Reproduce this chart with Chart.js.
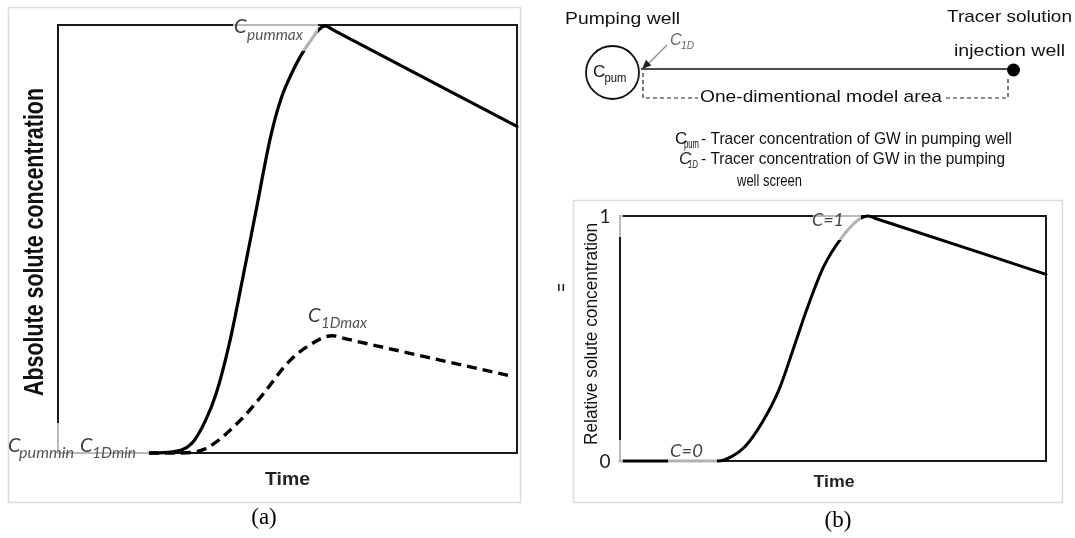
<!DOCTYPE html>
<html>
<head>
<meta charset="utf-8">
<script src="https://cdn.jsdelivr.net/npm/chart.js@4.4.1/dist/chart.umd.min.js"></script>
<style>
  html, body { margin: 0; padding: 0; background: #fff; }
  #wrap { position: relative; width: 1075px; height: 538px; }
  canvas { position: absolute; left: 0; top: 0; }
</style>
</head>
<body>
<div id="wrap">
  <canvas id="chartA" width="1075" height="538"></canvas>
  <canvas id="chartB" width="1075" height="538"></canvas>
</div>
<script>
// panel (a): absolute concentration, time in arbitrary units (0-100)
const timeA = [19.8, 24.6, 29.2, 32.1, 34.5, 37.4, 40, 43, 46.3, 48.5, 51.5, 54.5, 58.2, 60, 100];
const cPum = [0, 0.2, 2.3, 7.5, 14, 25.9, 39.5, 55.8, 73.8, 82.5, 90, 95.5, 99.8, 98.8, 76.3];
const time1D = [19.8, 26.1, 32.1, 39.6, 44.8, 50, 54.5, 59.7, 63, 99];
const c1D = [0, 0, 1, 7.5, 13.9, 21, 25, 27.4, 26.6, 17.9];

// panel (b): relative concentration
const timeB = [0, 23, 26.2, 29.3, 33.3, 37.3, 40.6, 43.8, 47.8, 51.9, 55.9, 58.2, 60, 100];
const cRel = [0, 0, 0.018, 0.058, 0.155, 0.29, 0.453, 0.616, 0.793, 0.909, 0.984, 1, 0.99, 0.762];
const relTicks = ["0", "1"];

const SANS = '"Liberation Sans", Arial, sans-serif';
const LAB = 'Lato, "Open Sans", sans-serif';
const SERIF = '"Liberation Serif", "Times New Roman", serif';

function pts(xs, ys) {
  return xs.map((x, i) => ({ x: x, y: ys[i] }));
}

// draw text squeezed/stretched to a given width
function fitText(ctx, txt, x, y, font, width, color, align) {
  ctx.save();
  ctx.font = font;
  ctx.fillStyle = color;
  ctx.textAlign = "left";
  ctx.textBaseline = "alphabetic";
  const w = ctx.measureText(txt).width;
  const s = width ? width / w : 1;
  const left = align === "center" ? x - (w * s) / 2 : x;
  ctx.translate(left, y);
  ctx.scale(s, 1);
  ctx.fillText(txt, 0, 0);
  ctx.restore();
}

function fitTextV(ctx, txt, baseX, bottomY, font, len, color) {
  ctx.save();
  ctx.font = font;
  ctx.fillStyle = color;
  ctx.textAlign = "left";
  ctx.textBaseline = "alphabetic";
  const w = ctx.measureText(txt).width;
  ctx.translate(baseX, bottomY);
  ctx.rotate(-Math.PI / 2);
  ctx.scale(len / w, 1);
  ctx.fillText(txt, 0, 0);
  ctx.restore();
}

function frame(chart) {
  const { ctx, chartArea: a } = chart;
  ctx.save();
  ctx.strokeStyle = "#1a1a1a";
  ctx.lineWidth = 2;
  ctx.strokeRect(a.left, a.top, a.right - a.left, a.bottom - a.top);
  ctx.restore();
}

// label boxes in the original sit half transparent over the lines
function veil(ctx, boxes) {
  ctx.save();
  ctx.fillStyle = "rgba(255,255,255,0.7)";
  boxes.forEach((b) => ctx.fillRect(b[0], b[1], b[2], b[3]));
  ctx.restore();
}

function panelBox(ctx, x, y, w, h) {
  ctx.save();
  ctx.strokeStyle = "#dcdcdc";
  ctx.lineWidth = 1.5;
  ctx.strokeRect(x, y, w, h);
  ctx.restore();
}

const panelA = {
  id: "panelA",
  beforeDraw(chart) {
    panelBox(chart.ctx, 8.5, 7.5, 512, 495);
  },
  beforeDatasetsDraw(chart) {
    frame(chart);
  },
  afterDatasetsDraw(chart) {
    const ctx = chart.ctx;
    veil(ctx, [[233, 14, 85, 37], [10, 423, 68, 40], [78, 430, 71, 32]]);

    fitTextV(ctx, "Absolute solute concentration", 43, 396, "bold 28px " + SANS, 308, "#111");
    fitText(ctx, "Time", 265, 485, "bold 19px " + SANS, 45, "#222");
    fitText(ctx, "(a)", 264, 524, "23px " + SERIF, 0, "#000", "center");

    // C labels
    fitText(ctx, "C", 234, 33, "italic 20px " + LAB, 0, "#3c3c3c");
    fitText(ctx, "pummax", 247, 40, "italic 15px " + LAB, 56, "#555");
    fitText(ctx, "C", 308, 322, "italic 20px " + LAB, 0, "#3c3c3c");
    fitText(ctx, "1Dmax", 321, 328, "italic 15px " + LAB, 46, "#555");
    fitText(ctx, "C", 8, 452, "italic 20px " + LAB, 0, "#3c3c3c");
    fitText(ctx, "pummin", 19, 458, "italic 15px " + LAB, 55, "#555");
    fitText(ctx, "C", 80, 452, "italic 20px " + LAB, 0, "#3c3c3c");
    fitText(ctx, "1Dmin", 92, 458, "italic 15px " + LAB, 44, "#555");
  },
};

function drawDiagram(ctx) {
  ctx.save();
  // pumping well
  ctx.strokeStyle = "#111";
  ctx.lineWidth = 1.8;
  ctx.beginPath();
  ctx.arc(612.5, 72.5, 26.5, 0, 2 * Math.PI);
  ctx.stroke();
  // flow line to injection well
  ctx.lineWidth = 1.5;
  ctx.beginPath();
  ctx.moveTo(641, 69);
  ctx.lineTo(1012, 69);
  ctx.stroke();
  ctx.fillStyle = "#000";
  ctx.beginPath();
  ctx.arc(1013.5, 70, 6.5, 0, 2 * Math.PI);
  ctx.fill();
  // dashed model area bracket
  ctx.setLineDash([4, 3]);
  ctx.lineWidth = 1.2;
  ctx.strokeStyle = "#222";
  ctx.beginPath();
  ctx.moveTo(643, 73);
  ctx.lineTo(643, 98);
  ctx.lineTo(698, 98);
  ctx.stroke();
  ctx.beginPath();
  ctx.moveTo(946, 98);
  ctx.lineTo(1008, 98);
  ctx.lineTo(1008, 76);
  ctx.stroke();
  ctx.setLineDash([]);
  // arrow for C1D
  ctx.strokeStyle = "#8a8a8a";
  ctx.lineWidth = 1.3;
  ctx.beginPath();
  ctx.moveTo(667, 45);
  ctx.lineTo(647, 65);
  ctx.stroke();
  const ang = Math.atan2(69 - 45, 642 - 667);
  ctx.fillStyle = "#222";
  ctx.beginPath();
  ctx.moveTo(642, 69);
  ctx.lineTo(642 - 10 * Math.cos(ang - 0.4), 69 - 10 * Math.sin(ang - 0.4));
  ctx.lineTo(642 - 10 * Math.cos(ang + 0.4), 69 - 10 * Math.sin(ang + 0.4));
  ctx.closePath();
  ctx.fill();
  ctx.restore();

  fitText(ctx, "Pumping well", 565, 24, "17px " + SANS, 115, "#111");
  fitText(ctx, "C", 670, 45, "italic 16px " + SANS, 0, "#666");
  fitText(ctx, "1D", 681, 49, "italic 11px " + SANS, 13, "#666");
  fitText(ctx, "C", 593, 77, "17px " + SANS, 0, "#111");
  fitText(ctx, "pum", 604.5, 82, "12px " + SANS, 22, "#111");
  fitText(ctx, "One-dimentional model area", 700, 102, "17px " + SANS, 242, "#111");
  fitText(ctx, "Tracer solution", 947, 22, "17px " + SANS, 125, "#111");
  fitText(ctx, "injection well", 954, 56, "17px " + SANS, 111, "#111");

  fitText(ctx, "C", 675, 143.5, "17px " + SANS, 0, "#111");
  fitText(ctx, "pum", 684, 148, "12px " + SANS, 15, "#111");
  fitText(ctx, "- Tracer concentration of GW in pumping well", 701, 143.5, "17px " + SANS, 311, "#111");
  fitText(ctx, "C", 679, 164, "italic 17px " + SANS, 0, "#222");
  fitText(ctx, "1D", 688, 168, "italic 11px " + SANS, 10, "#222");
  fitText(ctx, "- Tracer concentration of GW in the pumping", 701, 164, "17px " + SANS, 304, "#111");
  fitText(ctx, "well screen", 737, 186, "17px " + SANS, 65, "#111");
}

const panelB = {
  id: "panelB",
  beforeDraw(chart) {
    panelBox(chart.ctx, 573.5, 200.5, 489, 302);
  },
  beforeDatasetsDraw(chart) {
    frame(chart);
  },
  afterDatasetsDraw(chart) {
    const ctx = chart.ctx;
    const ys = chart.scales.y;
    veil(ctx, [[600, 205, 23, 32], [600, 440, 23, 30], [668, 437, 49, 30], [813, 207, 48, 33]]);

    fitTextV(ctx, "Relative solute concentration", 597, 445, "19px " + SANS, 222, "#111");
    relTicks.forEach((t) => {
      fitText(ctx, t, 605, ys.getPixelForValue(Number(t)) + 6.5, "19px " + LAB, 0, "#222", "center");
    });
    fitText(ctx, "C=1", 812, 226, "italic 18px " + LAB, 32, "#444");
    fitText(ctx, "C=0", 670, 457, "italic 18px " + LAB, 33, "#444");
    fitText(ctx, "Time", 813.5, 487, "bold 16px " + SANS, 41, "#222");
    fitText(ctx, "(b)", 838, 527, "23px " + SERIF, 0, "#000", "center");

    // stray mark left of the axis title
    ctx.fillStyle = "#222";
    ctx.fillRect(558, 284, 1.6, 7);
    ctx.fillRect(562.5, 284, 1.6, 7);

    drawDiagram(ctx);
  },
};

function baseOptions(pad, yMax) {
  return {
    responsive: false,
    animation: false,
    events: [],
    layout: { padding: pad },
    plugins: { legend: { display: false }, tooltip: { enabled: false } },
    scales: {
      x: { type: "linear", display: false, min: 0, max: 100 },
      y: { type: "linear", display: false, min: 0, max: yMax },
    },
    elements: { point: { radius: 0 } },
  };
}

new Chart(document.getElementById("chartA"), {
  type: "line",
  data: {
    datasets: [
      {
        label: "C pum",
        data: pts(timeA, cPum),
        borderColor: "#000",
        borderWidth: 3.2,
        cubicInterpolationMode: "monotone",
        borderCapStyle: "round",
        borderJoinStyle: "round",
        clip: false,
      },
      {
        label: "C 1D",
        data: pts(time1D, c1D),
        borderColor: "#000",
        borderWidth: 3.4,
        borderDash: [10, 6],
        cubicInterpolationMode: "monotone",
        clip: false,
      },
    ],
  },
  options: baseOptions({ left: 58, top: 25, right: 1075 - 517, bottom: 538 - 453 }, 100),
  plugins: [panelA],
});

new Chart(document.getElementById("chartB"), {
  type: "line",
  data: {
    datasets: [
      {
        label: "C relative",
        data: pts(timeB, cRel),
        borderColor: "#000",
        borderWidth: 3,
        cubicInterpolationMode: "monotone",
        borderCapStyle: "round",
        borderJoinStyle: "round",
        clip: false,
      },
    ],
  },
  options: baseOptions({ left: 620, top: 216, right: 1075 - 1046, bottom: 538 - 461 }, 1),
  plugins: [panelB],
});
</script>
</body>
</html>
